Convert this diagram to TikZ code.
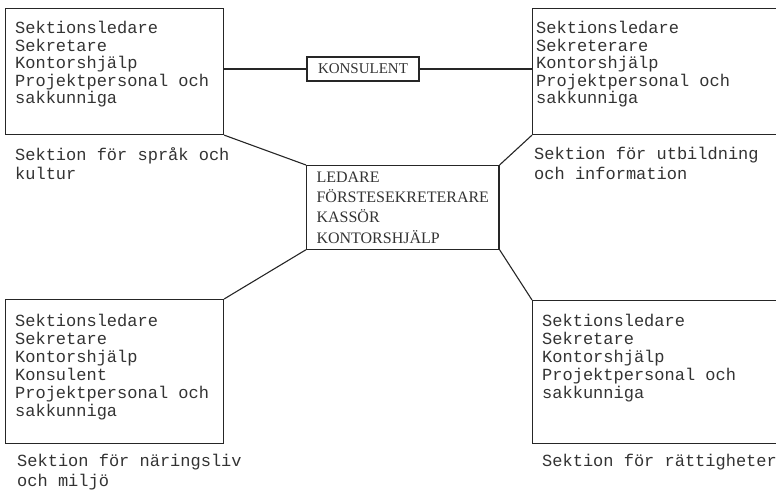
\documentclass[tikz,border=0pt]{standalone}
\usepackage{fontspec}
\setmainfont{Liberation Serif}
\setmonofont{Liberation Mono}
\usetikzlibrary{positioning}

\begin{document}
\begin{tikzpicture}[
    x=1pt, y=-1pt,
    secbox/.style={rectangle, draw=black!85, line width=1.1pt, anchor=north west, minimum width=218pt, inner sep=0pt},
    seclist/.style={align=left, inner sep=0pt, font=\ttfamily\fontsize{17}{18}\selectfont, text=black!80},
    seccap/.style={align=left, inner sep=0pt, font=\ttfamily\fontsize{17}{19.5}\selectfont, text=black!80},
    chief/.style={rectangle, draw=black!85, line width=1.1pt, align=left, inner xsep=10pt, inner ysep=6pt, font=\fontsize{16}{20.3}\selectfont, text=black!80},
    link/.style={draw=black!85, line width=1.1pt}
  ]

  % page frame
  \clip (0,0) rectangle (776,493);

  % Section boxes
  \node[secbox, minimum height=126pt] (langbox) at (5,8) {};
  \node[secbox, minimum height=126pt, minimum width=260pt] (edubox) at (532,8) {};
  \node[secbox, minimum height=144pt] (envbox) at (5,299) {};
  \node[secbox, minimum height=143pt, minimum width=260pt] (rightsbox) at (532,300) {};

  % Staff in each section
  \node[seclist, below right=13pt and 10pt of langbox.north west, font=\ttfamily\fontsize{17}{17.5}\selectfont] (langlist) {Sektionsledare\\Sekretare\\Kontorshjälp\\Projektpersonal och\\sakkunniga};
  \node[seclist, below right=13pt and 4pt of edubox.north west, font=\ttfamily\fontsize{17}{17.5}\selectfont] (edulist) {Sektionsledare\\Sekreterare\\Kontorshjälp\\Projektpersonal och\\sakkunniga};
  \node[seclist, below right=15pt and 10pt of envbox.north west] (envlist) {Sektionsledare\\Sekretare\\Kontorshjälp\\Konsulent\\Projektpersonal och\\sakkunniga};
  \node[seclist, below right=14pt and 10pt of rightsbox.north west] (rightslist) {Sektionsledare\\Sekretare\\Kontorshjälp\\Projektpersonal och\\sakkunniga};

  % Section names
  \node[seccap, below right=12pt and 10pt of langbox.south west] (langcap) {Sektion för språk och\\kultur};
  \node[seccap, below right=12pt and 2pt of edubox.south west] (educap) {Sektion för utbildning\\och information};
  \node[seccap, below right=10pt and 12pt of envbox.south west] (envcap) {Sektion för näringsliv\\och miljö};
  \node[seccap, below right=10pt and 10pt of rightsbox.south west] (rightscap) {Sektion för rättigheter};

  % Secretariat and consultant
  \node[chief, anchor=north west] (lead) at (306,165) {LEDARE\\FÖRSTESEKRETERARE\\KASSÖR\\KONTORSHJÄLP};
  \node[chief, inner xsep=11pt, inner ysep=7pt, font=\fontsize{15}{18}\selectfont] (kons) at (363,69) {KONSULENT};

  % Connections
  \draw[link] (kons.west) -- (kons.west -| langbox.east);
  \draw[link] (kons.east) -- (kons.east -| edubox.west);
  \draw[link] (langbox.south east) -- (lead.north west);
  \draw[link] (edubox.south west) -- (lead.north east);
  \draw[link] (lead.south west) -- (envbox.north east);
  \draw[link] (lead.south east) -- (rightsbox.north west);

\end{tikzpicture}
\end{document}
